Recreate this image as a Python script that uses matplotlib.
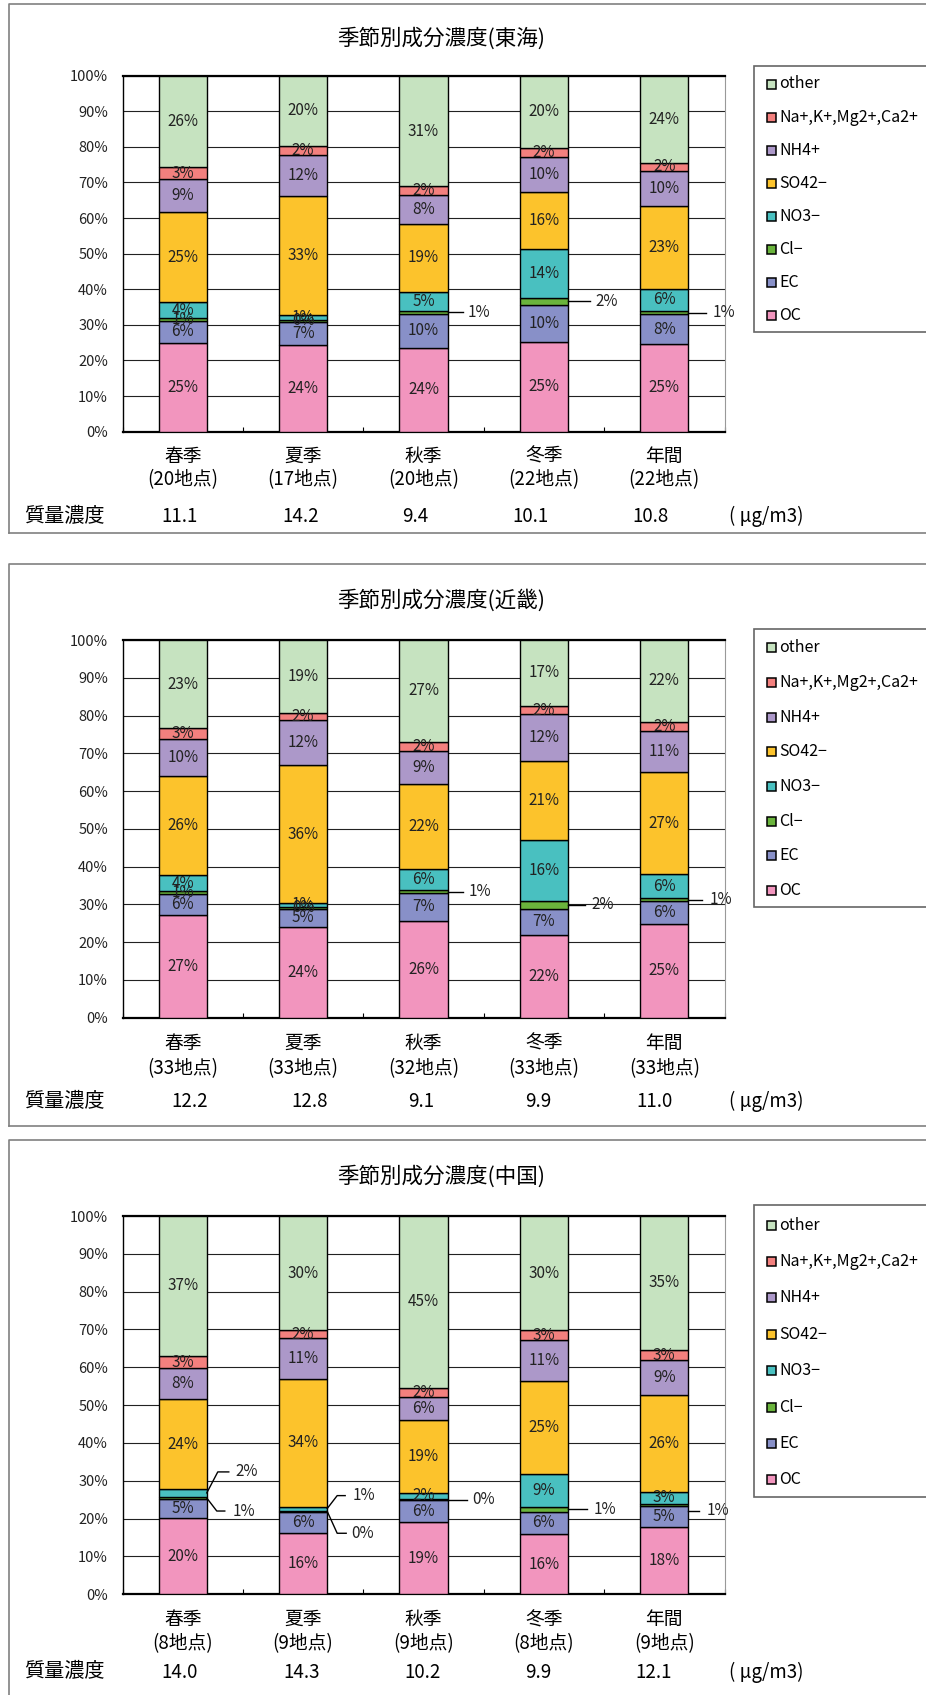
import numpy as np
import matplotlib.pyplot as plt
from matplotlib.patches import Rectangle
from matplotlib.lines import Line2D

plt.rcParams['font.family'] = ['Noto Sans CJK JP', 'DejaVu Sans']

# ---- data ----
seasons = ['春季', '夏季', '秋季', '冬季', '年間']
components = ['OC', 'EC', 'Cl−', 'NO3−', 'SO42−', 'NH4+', 'Na+,K+,Mg2+,Ca2+', 'other']
colors = ['#f295be', '#8890c8', '#6ab43c', '#49c0c0', '#fcc32c', '#ac98c9', '#f3807e', '#c6e3c0']

# 東海
tokai_sites = [20, 17, 20, 22, 22]
tokai_mass = [11.1, 14.2, 9.4, 10.1, 10.8]
tokai_oc = [25.0, 24.3, 23.6, 25.3, 24.6]
tokai_ec = [6.1, 6.6, 9.6, 10.4, 8.4]
tokai_cl = [0.8, 0.45, 0.7, 1.9, 0.8]
tokai_no3 = [4.4, 1.45, 5.4, 13.6, 6.4]
tokai_so4 = [25.3, 33.4, 19.1, 16.1, 23.2]
tokai_nh4 = [9.4, 11.6, 8.2, 10.0, 9.8]
tokai_na = [3.3, 2.4, 2.3, 2.4, 2.4]
tokai_other = [25.7, 19.8, 31.1, 20.3, 24.4]

# 近畿
kinki_sites = [33, 33, 32, 33, 33]
kinki_mass = [12.2, 12.8, 9.1, 9.9, 11.0]
kinki_oc = [27.2, 23.9, 25.7, 22.0, 24.9]
kinki_ec = [5.6, 5.0, 7.4, 6.9, 6.0]
kinki_cl = [0.7, 0.45, 0.6, 2.0, 0.7]
kinki_no3 = [4.2, 1.05, 5.8, 16.1, 6.4]
kinki_so4 = [26.4, 36.4, 22.4, 21.0, 27.0]
kinki_nh4 = [9.8, 12.0, 8.8, 12.3, 10.9]
kinki_na = [2.8, 1.9, 2.4, 2.3, 2.4]
kinki_other = [23.3, 19.3, 26.9, 17.4, 21.7]

# 中国
chugoku_sites = [8, 9, 9, 8, 9]
chugoku_mass = [14.0, 14.3, 10.2, 9.9, 12.1]
chugoku_oc = [20.2, 16.1, 19.0, 15.9, 17.9]
chugoku_ec = [4.9, 5.7, 5.9, 5.9, 5.4]
chugoku_cl = [0.7, 0.3, 0.3, 1.4, 0.7]
chugoku_no3 = [2.0, 1.1, 1.6, 8.6, 3.1]
chugoku_so4 = [23.8, 33.7, 19.2, 24.6, 25.7]
chugoku_nh4 = [8.1, 10.9, 6.2, 10.8, 9.1]
chugoku_na = [3.4, 2.0, 2.4, 2.6, 2.7]
chugoku_other = [36.9, 30.2, 45.4, 30.2, 35.4]

# ---- figure helpers (pixel coords, y down) ----
W, H = 926, 1695
fig = plt.figure(figsize=(W / 100, H / 100), dpi=100)


def fx(x):
    return x / W


def fy(y):
    return 1 - y / H


def ftext(x, y, s, **kw):
    fig.text(fx(x), fy(y), s, **kw)


def fline(xs, ys, **kw):
    fig.add_artist(Line2D([fx(v) for v in xs], [fy(v) for v in ys],
                          transform=fig.transFigure, **kw))


PLOT_L, PLOT_R = 122.5, 724.5
SLOT = (PLOT_R - PLOT_L) / 5


def draw_panel(region, sites, mass, layers, lay, leaders):
    top, bot = lay['box']
    # outer frame (right side runs off the image)
    fline([940, 8.5, 8.5], [top, top, bot if bot else H + 5], color='#808080', lw=1.2)
    if bot:
        fline([8.5, 940], [bot, bot], color='#808080', lw=1.2)

    ftext(441, lay['title'], f'季節別成分濃度({region})', ha='center', va='center', fontsize=15.5)

    pt, pb = lay['plot']
    ax = fig.add_axes([fx(PLOT_L), fy(pb), (PLOT_R - PLOT_L) / W, (pb - pt) / H])
    x = np.arange(len(seasons))
    ax.set_xlim(-0.5, 4.5)
    ax.set_ylim(0, 100)
    ax.set_yticks(np.arange(0, 101, 10))
    ax.set_yticklabels([f'{v}%' for v in range(0, 101, 10)])
    ax.tick_params(axis='y', length=0, pad=10.5, labelsize=10.5, labelcolor='#222')
    ax.set_xticks([])
    ax.set_xticks(np.arange(-0.5, 5, 1), minor=True)
    ax.tick_params(axis='x', which='minor', direction='in', length=3.5, width=0.8)
    ax.grid(axis='y', color='#222', lw=0.8)
    ax.set_axisbelow(True)
    for s in ['top', 'bottom']:
        ax.spines[s].set_linewidth(1.6)
    ax.spines['left'].set_linewidth(1.0)
    ax.spines['right'].set_color('#999')
    ax.spines['right'].set_linewidth(0.8)

    lead_keys = {(b, k) for b, k, _, _ in leaders}
    bottom = np.zeros(len(seasons))
    mids = []
    for k, vals in enumerate(layers):
        vals = np.array(vals, dtype=float)
        ax.bar(x, vals, 0.4, bottom=bottom, color=colors[k], edgecolor='black',
               linewidth=1.0, zorder=3)
        mids.append(bottom + vals / 2)
        for i in range(len(seasons)):
            if (i, k) in lead_keys:
                continue
            ax.text(x[i], bottom[i] + vals[i] / 2, f'{vals[i]:.0f}%', ha='center',
                    va='center', fontsize=11, color='#222', zorder=4)
        bottom += vals

    # labels with leader lines (offsets in pixels, y down)
    for b, k, verts, toff in leaders:
        val = layers[k][b]
        ax_pt = ax.transData.transform((b + 0.2, mids[k][b]))
        pts = np.array([[ax_pt[0] + dx, ax_pt[1] - dy] for dx, dy in verts])
        dpts = ax.transData.inverted().transform(pts)
        ax.plot(dpts[:, 0], dpts[:, 1], color='black', lw=1.0, clip_on=False, zorder=5)
        tp = ax.transData.inverted().transform((ax_pt[0] + toff[0], ax_pt[1] - toff[1]))
        ax.text(tp[0], tp[1], f'{val:.0f}%', ha='left', va='center', fontsize=11,
                color='#222', clip_on=False, zorder=5)

    # category labels and mass concentration row
    for i, s in enumerate(seasons):
        cx = PLOT_L + (i + 0.5) * SLOT
        ftext(cx, pb + lay['cat'][0], s, ha='center', va='center', fontsize=13.5)
        ftext(cx, pb + lay['cat'][1], f'({sites[i]}地点)', ha='center', va='center', fontsize=13.5)
        ftext(lay['mass_x'][i], pb + lay['cat'][2], f'{mass[i]:.1f}', ha='center', va='center', fontsize=13.5)
    ftext(24, pb + lay['cat'][2], '質量濃度', ha='left', va='center', fontsize=14.5)
    ftext(766, pb + lay['cat'][2], '( μg/m3)', ha='center', va='center', fontsize=13.5)

    # legend box
    ly0, ly1 = lay['legend']
    fig.add_artist(Rectangle((fx(753.5), fy(ly1)), (950 - 753.5) / W, (ly1 - ly0) / H,
                             transform=fig.transFigure, facecolor='white',
                             edgecolor='#666', lw=1.2))
    for j, k in enumerate(range(len(components) - 1, -1, -1)):
        yy = lay['leg_y0'] + j * lay['leg_dy']
        fig.add_artist(Rectangle((fx(767), fy(yy + 4.5)), 9 / W, 9 / H,
                                 transform=fig.transFigure, facecolor=colors[k],
                                 edgecolor='black', lw=1.1))
        ftext(779, yy, components[k], ha='left', va='center', fontsize=11.5)
    return ax


CL, NO3 = 2, 3
layouts = [
    dict(box=(4.3, 533.5), title=38.6, plot=(75.7, 431.7), cat=(24.5, 47.5, 85),
         mass_x=[180, 301, 415, 530, 650], legend=(66, 331.7), leg_y0=84, leg_dy=33.1),
    dict(box=(564, 1126), title=600.5, plot=(640, 1017.7), cat=(25.6, 51.3, 84),
         mass_x=[190, 310, 421, 538, 655], legend=(629.3, 907.3), leg_y0=647.7, leg_dy=34.7),
    dict(box=(1140, None), title=1176.7, plot=(1216, 1594.3), cat=(25.3, 49.3, 77.7),
         mass_x=[180, 302, 423, 538, 654], legend=(1205.3, 1497.3), leg_y0=1225, leg_dy=36.4),
]
leader_sets = [
    [(2, CL, [(0, 0), (15, 0)], (20, 0)),
     (3, CL, [(0, 0), (22, 0)], (27, 0)),
     (4, CL, [(0, 0), (18, 0)], (24, 0))],
    [(2, CL, [(0, 0), (15, 0)], (21, 0)),
     (3, CL, [(0, 0), (17, 0)], (23, 0)),
     (4, CL, [(0, 0), (14, 0)], (21, 0))],
    [(0, NO3, [(0, 0), (11, -21), (22, -21)], (29, -21)),
     (0, CL, [(0, 0), (10, 13), (18, 13)], (26, 13)),
     (1, NO3, [(0, 0), (10, -13), (18, -13)], (25, -13)),
     (1, CL, [(0, 0), (10, 22), (19, 22)], (24, 22)),
     (2, CL, [(0, 0), (19, 0)], (25, 0)),
     (3, CL, [(0, 0), (19, 0)], (26, 0)),
     (4, CL, [(0, 6), (11, 6)], (18, 6))],
]

draw_panel('東海', tokai_sites, tokai_mass,
           [tokai_oc, tokai_ec, tokai_cl, tokai_no3, tokai_so4, tokai_nh4, tokai_na, tokai_other],
           layouts[0], leader_sets[0])
draw_panel('近畿', kinki_sites, kinki_mass,
           [kinki_oc, kinki_ec, kinki_cl, kinki_no3, kinki_so4, kinki_nh4, kinki_na, kinki_other],
           layouts[1], leader_sets[1])
draw_panel('中国', chugoku_sites, chugoku_mass,
           [chugoku_oc, chugoku_ec, chugoku_cl, chugoku_no3, chugoku_so4, chugoku_nh4, chugoku_na, chugoku_other],
           layouts[2], leader_sets[2])

fig.savefig('out.png', dpi=100, facecolor='white')
